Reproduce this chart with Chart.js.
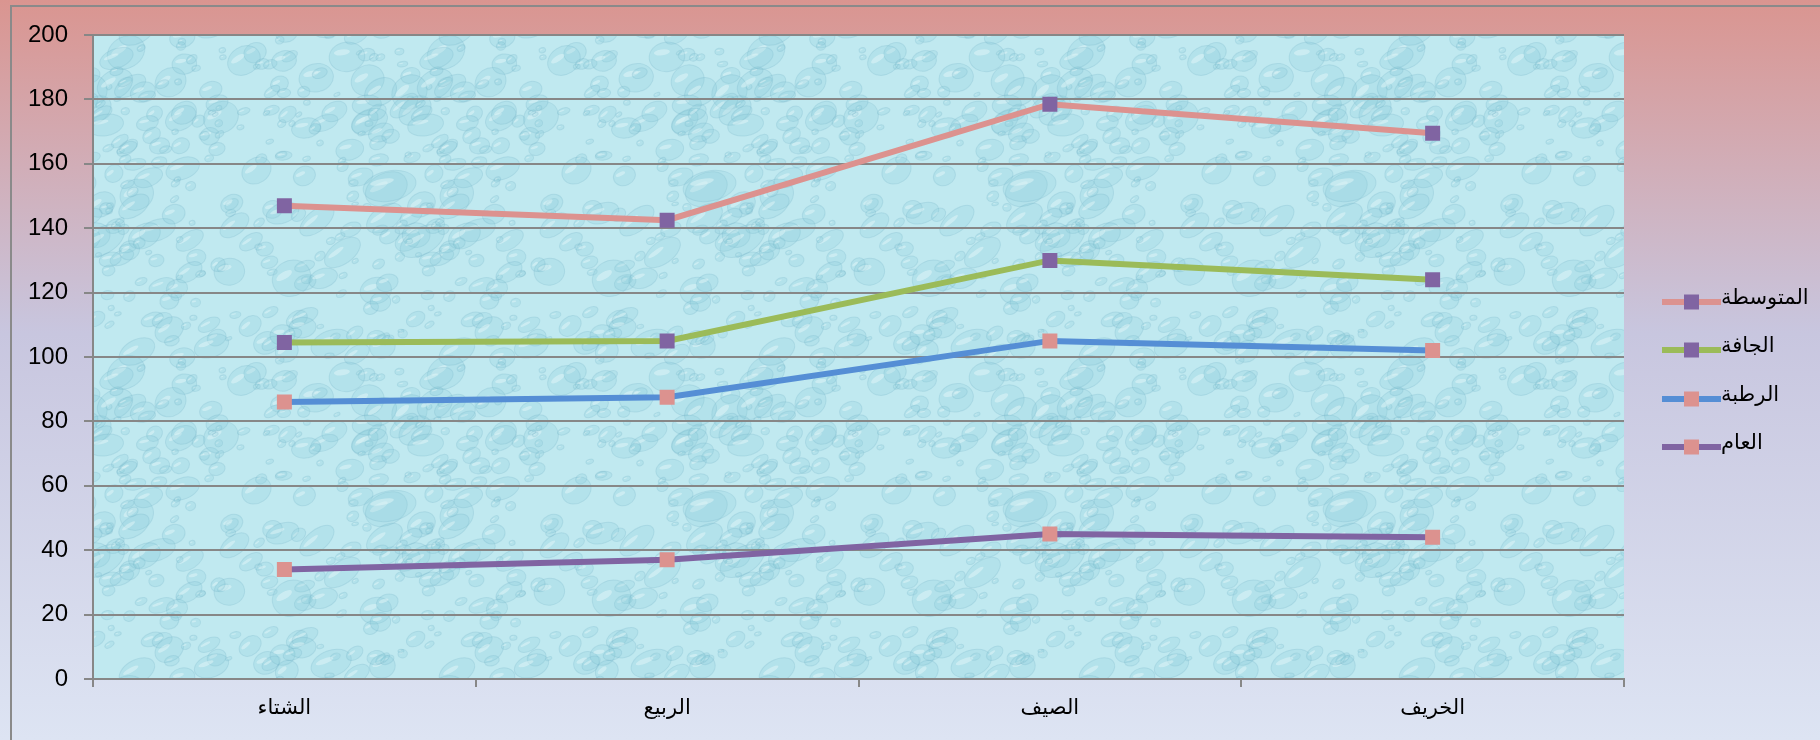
<!DOCTYPE html>
<html>
<head>
<meta charset="utf-8">
<script src="https://cdn.jsdelivr.net/npm/chart.js@4"></script>
<style>
  html, body { margin:0; padding:0; background:#fff; }
  canvas { display:block; }
</style>
</head>
<body>
<canvas id="chart" width="1820" height="740"></canvas>
<script>
// ========== Data ==========
const seasons = ['الشتاء', 'الربيع', 'الصيف', 'الخريف'];
const seriesNames = ['المتوسطة', 'الجافة', 'الرطبة', 'العام'];
const medium = [147, 142.5, 178.5, 169.5];
const dry    = [104.5, 105, 130, 124];
const humid  = [86, 87.5, 105, 102];
const overall = [34, 37, 45, 44];
const yTicks = [0, 20, 40, 60, 80, 100, 120, 140, 160, 180, 200];

const lineColors = ['#dc928f', '#9bbb59', '#558ed5', '#8064a2'];
const markColors = ['#8064a2', '#8064a2', '#dc928f', '#dc928f'];
const GRID = '#878787';

// ========== Water drops texture ==========
function makeDrops(){
  const c = document.createElement('canvas');
  c.width = 320; c.height = 320;
  const g = c.getContext('2d');
  g.fillStyle = '#c0e9f0';
  g.fillRect(0, 0, 320, 320);
  let seed = 11;
  const rnd = () => { seed = (seed * 16807) % 2147483647; return seed / 2147483647; };
  for(let i=0;i<260;i++){
    const x = rnd()*320, y = rnd()*320;
    const rx = 3 + rnd()*rnd()*24, ry = rx*(0.5 + rnd()*0.4);
    const rot = -0.7 + rnd()*0.6;
    for(const dx of [-320,0,320]) for(const dy of [-320,0,320]){
      g.save();
      g.translate(x+dx, y+dy); g.rotate(rot);
      g.beginPath(); g.ellipse(0, 0, rx, ry, 0, 0, Math.PI*2);
      g.fillStyle = 'rgba(130,198,214,0.2)'; g.fill();
      g.lineWidth = 1; g.strokeStyle = 'rgba(110,175,195,0.22)'; g.stroke();
      g.beginPath(); g.ellipse(-rx*0.25, -ry*0.35, rx*0.45, ry*0.2, 0, 0, Math.PI*2);
      g.fillStyle = 'rgba(240,252,253,0.4)'; g.fill();
      g.restore();
    }
  }
  return c;
}
const dropTile = makeDrops();

// ========== Plugins ==========
const backdrop = {
  id:'backdrop',
  beforeDraw(chart){
    const {ctx, width, height, chartArea:a} = chart;
    ctx.save();
    const grad = ctx.createLinearGradient(0, 0, 0, height);
    grad.addColorStop(0, '#da9590');
    grad.addColorStop(0.45, '#c8c6df');
    grad.addColorStop(1, '#dde4f3');
    ctx.fillStyle = grad;
    ctx.fillRect(0, 0, width, height);
    ctx.strokeStyle = '#8a8a8a'; ctx.lineWidth = 2;
    ctx.strokeRect(11, 6, width + 40, height + 40);
    ctx.fillStyle = ctx.createPattern(dropTile, 'repeat');
    ctx.fillRect(a.left, a.top, a.right - a.left, a.bottom - a.top);
    ctx.restore();
  }
};

const sideLegend = {
  id:'sideLegend',
  afterDraw(chart){
    const ctx = chart.ctx;
    const rows = [302, 350, 399, 447];
    ctx.save();
    chart.data.datasets.forEach((ds, i) => {
      const y = rows[i];
      ctx.strokeStyle = ds.borderColor; ctx.lineWidth = 6;
      ctx.beginPath(); ctx.moveTo(1662, y); ctx.lineTo(1721, y); ctx.stroke();
      ctx.fillStyle = ds.pointBackgroundColor;
      ctx.fillRect(1684, y - 7.5, 15, 15);
      ctx.fillStyle = '#000';
      ctx.font = '21px "DejaVu Sans", sans-serif';
      ctx.textAlign = 'left'; ctx.textBaseline = 'middle';
      ctx.fillText(ds.label, 1721, y - 3);
    });
    ctx.restore();
  }
};

// ========== Chart ==========
const seriesValues = [medium, dry, humid, overall];
const datasets = seriesNames.map((name, i) => ({
  label: name,
  data: seriesValues[i],
  borderColor: lineColors[i],
  borderWidth: 6,
  pointStyle: 'rect',
  pointRadius: 10.6,
  pointBackgroundColor: markColors[i],
  pointBorderColor: markColors[i],
  pointBorderWidth: 0,
  tension: 0
}));

new Chart(document.getElementById('chart').getContext('2d'), {
  type:'line',
  data:{ labels: seasons, datasets },
  options:{
    responsive:false,
    devicePixelRatio:1,
    animation:false,
    layout:{ padding:{ top:35, right:196, left:0, bottom:0 } },
    plugins:{ legend:{ display:false }, tooltip:{ enabled:false } },
    scales:{
      x:{
        offset:true,
        afterFit: s => { s.height = 61; },
        grid:{ offset:true, drawOnChartArea:false, drawTicks:true, tickLength:8, color:GRID, lineWidth:2 },
        border:{ color:GRID, width:2 },
        ticks:{ color:'#000', padding:9, font:{ family:'"DejaVu Sans", sans-serif', size:21 } }
      },
      y:{
        min:0, max:200,
        afterFit: s => { s.width = 93; },
        afterBuildTicks: s => { s.ticks = yTicks.map(v => ({ value:v })); },
        grid:{ color:GRID, lineWidth:2, tickLength:9 },
        border:{ color:GRID, width:2 },
        ticks:{ color:'#000', padding:16, font:{ family:'"Liberation Sans", sans-serif', size:24 } }
      }
    }
  },
  plugins:[backdrop, sideLegend]
});
</script>
</body>
</html>
